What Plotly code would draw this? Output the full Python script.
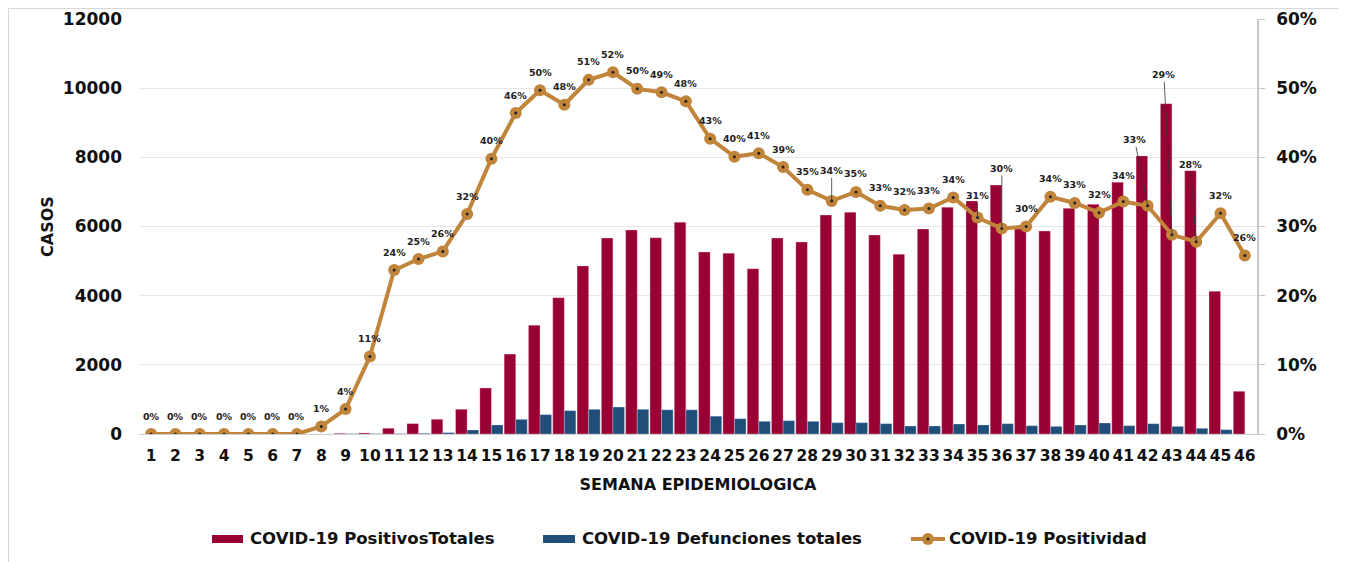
import plotly.graph_objects as go

weeks = list(range(1, 47))

positivos = [0, 0, 0, 0, 0, 0, 0, 0, 20, 30, 165, 300, 425, 715, 1330, 2310,
             3145, 3940, 4860, 5665, 5900, 5675, 6125, 5260, 5225, 4780, 5665, 5550,
             6330, 6410, 5755, 5195, 5925, 6555, 6740, 7200, 5930, 5870, 6525, 6640,
             7280, 8040, 9550, 7615, 4125, 1235]

defunciones = [0, 0, 0, 0, 0, 0, 0, 0, 10, 10, 10, 20, 40, 116, 260, 424,
               560, 675, 714, 780, 714, 700, 700, 515, 443, 366, 385, 366,
               328, 328, 299, 231, 231, 289, 260, 298, 240, 220, 260, 318,
               240, 298, 220, 164, 125, 0]

positividad = [0, 0, 0, 0, 0, 0, 0, 1.1, 3.6, 11.2, 23.7, 25.3, 26.4, 31.8, 39.8, 46.4,
               49.7, 47.6, 51.2, 52.3, 49.9, 49.4, 48.1, 42.7, 40.1, 40.6, 38.6, 35.3,
               33.7, 35.0, 33.0, 32.4, 32.6, 34.2, 31.3, 29.7, 30.0, 34.3, 33.4, 32.0,
               33.6, 33.0, 28.8, 27.8, 31.9, 25.8]

pos_labels = [f"{round(v)}%" for v in positividad]

left_ticks = [0, 2000, 4000, 6000, 8000, 10000, 12000]
right_ticks = [0, 10, 20, 30, 40, 50, 60]

series_names = ["COVID-19 PositivosTotales", "COVID-19 Defunciones totales", "COVID-19 Positividad"]

# leader-line label offsets (pixels) for crowded points: week -> (ax, ay)
leaders = {29: (0, -30), 35: (0, -22), 36: (0, -60), 42: (-13, -66), 43: (-8, -160), 44: (-6, -77)}
# larger plain offsets for some labels: week -> yshift
raised = {41: 26}

RED = "#990033"
BLUE = "#1f4e79"
ORANGE = "#c0843a"
FONT = "DejaVu Sans"
TXT = "#111111"

fig = go.Figure()
fig.add_trace(go.Bar(x=weeks, y=positivos, name=series_names[0], showlegend=False,
                     marker=dict(color=RED, line=dict(color="rgba(255,220,230,0.6)", width=0.5))))
fig.add_trace(go.Bar(x=weeks, y=defunciones, name=series_names[1], showlegend=False,
                     marker=dict(color=BLUE, line=dict(color="rgba(220,230,255,0.6)", width=0.5))))
fig.add_trace(go.Scatter(x=weeks, y=positividad, yaxis="y2", name=series_names[2], showlegend=False,
                         mode="lines+markers",
                         line=dict(color=ORANGE, width=4),
                         marker=dict(color=ORANGE, size=12)))
fig.add_trace(go.Scatter(x=weeks, y=positividad, yaxis="y2", showlegend=False,
                         mode="markers", hoverinfo="skip",
                         marker=dict(color="#222222", size=3)))

annotations = []
for w, v, t in zip(weeks, positividad, pos_labels):
    f = dict(family=FONT, size=9.5, color="#222222", weight="bold")
    if w in leaders:
        ax, ay = leaders[w]
        annotations.append(dict(x=w, y=v, xref="x", yref="y2", text=t, showarrow=True,
                                arrowhead=0, arrowwidth=0.8, arrowcolor="#333333",
                                ax=ax, ay=ay, standoff=0, font=f))
    else:
        annotations.append(dict(x=w, y=v, xref="x", yref="y2", text=t, showarrow=False,
                                yshift=raised.get(w, 18), font=f))

# custom legend (paper coordinates)
leg_y = -0.253
leg_font = dict(family=FONT, size=16.5, weight="bold", color=TXT)
for name, xt in zip(series_names, [0.0975, 0.3945, 0.7227]):
    annotations.append(dict(x=xt, y=leg_y, xref="paper", yref="paper", text=name,
                            showarrow=False, xanchor="left", yanchor="middle", font=leg_font))

shapes = [
    dict(type="rect", xref="paper", yref="paper", x0=0.0653, x1=0.0930, y0=-0.2627, y1=-0.2434,
         fillcolor=RED, line=dict(width=0)),
    dict(type="rect", xref="paper", yref="paper", x0=0.3614, x1=0.3900, y0=-0.2627, y1=-0.2434,
         fillcolor=BLUE, line=dict(width=0)),
    dict(type="line", xref="paper", yref="paper", x0=0.6905, x1=0.7209, y0=leg_y, y1=leg_y,
         line=dict(color=ORANGE, width=4)),
    dict(type="circle", xref="paper", yref="paper", xsizemode="pixel", ysizemode="pixel",
         xanchor=0.7057, yanchor=leg_y, x0=-6, x1=6, y0=-6, y1=6,
         fillcolor=ORANGE, line=dict(width=0)),
    dict(type="circle", xref="paper", yref="paper", xsizemode="pixel", ysizemode="pixel",
         xanchor=0.7057, yanchor=leg_y, x0=-1.5, x1=1.5, y0=-1.5, y1=1.5,
         fillcolor="#222222", line=dict(width=0)),
    # outer frame
    dict(type="line", xref="paper", yref="paper", x0=-0.1167, x1=1.1, y0=1.0253, y1=1.0253,
         line=dict(color="#d8d8d8", width=1)),
    dict(type="line", xref="paper", yref="paper", x0=-0.1167, x1=-0.1167, y0=1.0253, y1=-0.31,
         line=dict(color="#d8d8d8", width=1)),
]

fig.update_layout(
    width=1339, height=554, autosize=False,
    margin=dict(l=131, r=90, t=11, b=128, autoexpand=False),
    paper_bgcolor="white", plot_bgcolor="white",
    barmode="group", bargap=0.05, bargroupgap=0,
    font=dict(family=FONT, color=TXT),
    showlegend=False,
    xaxis=dict(range=[0.5, 46.5], tickmode="array", tickvals=weeks,
               ticktext=[str(w) for w in weeks], showgrid=False, automargin=False,
               showline=True, linecolor="#d0d0d0", linewidth=1, ticks="", ticklabelstandoff=7,
               tickfont=dict(family=FONT, size=15.5, weight="bold", color=TXT),
               title=dict(text="SEMANA EPIDEMIOLOGICA", standoff=15,
                          font=dict(family=FONT, size=16, weight="bold", color=TXT))),
    yaxis=dict(range=[0, 12000], tickvals=left_ticks, ticktext=[str(t) for t in left_ticks],
               showgrid=True, gridcolor="#e6e6e6", gridwidth=1, zeroline=False, automargin=False,
               showline=False, ticks="", ticklabelstandoff=16,
               tickfont=dict(family=FONT, size=17, weight="bold", color=TXT),
               title=dict(text="CASOS", standoff=5,
                          font=dict(family=FONT, size=16, weight="bold", color=TXT))),
    yaxis2=dict(range=[0, 60], overlaying="y", side="right", tickvals=right_ticks,
                ticktext=[f"{t}%" for t in right_ticks], showgrid=False, zeroline=False,
                automargin=False,
                showline=True, linecolor="#c8c8c8", linewidth=1.5,
                ticks="outside", ticklen=6, tickcolor="#c8c8c8", ticklabelstandoff=8,
                tickfont=dict(family=FONT, size=17, weight="bold", color=TXT)),
    annotations=annotations,
    shapes=shapes,
)

fig.write_html("out.html")
